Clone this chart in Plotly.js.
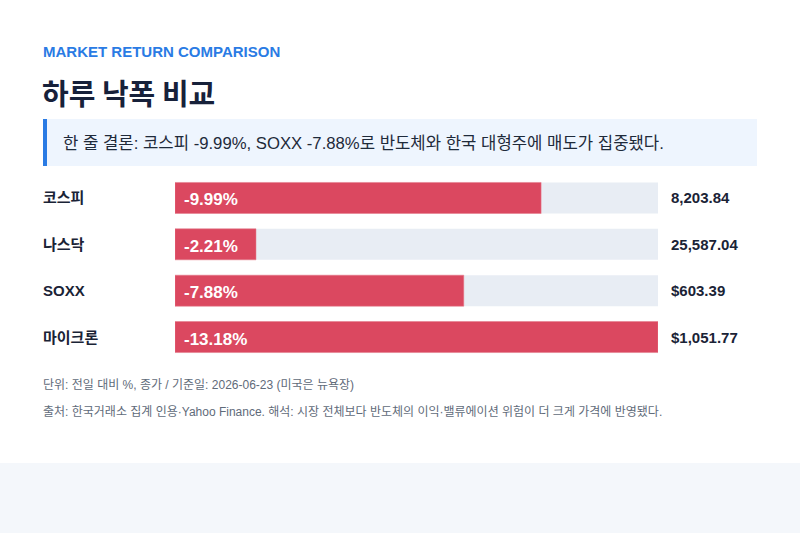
<!DOCTYPE html>
<html>
<head>
<meta charset="utf-8">
<script src="https://cdn.plot.ly/plotly-3.0.1.min.js"></script>
<style>
  html, body { margin: 0; padding: 0; background: #ffffff; }
  #myDiv { width: 800px; height: 533px; }
</style>
</head>
<body>
<div id="myDiv"></div>
<script>
var names = ['코스피', '나스닥', 'SOXX', '마이크론'];
var changes = [-9.99, -2.21, -7.88, -13.18];
var closes = ['8,203.84', '25,587.04', '$603.39', '$1,051.77'];

var FONT = 'Liberation Sans, Arial, Noto Sans CJK KR, sans-serif';
var maxDrop = Math.max.apply(null, changes.map(function (v) { return Math.abs(v); }));

function py(px) { return 1 - px / 533; }

var track = {
  type: 'bar',
  orientation: 'h',
  y: names,
  x: names.map(function () { return maxDrop; }),
  marker: {color: '#e8edf4'},
  width: 0.67,
  hoverinfo: 'skip',
  showlegend: false
};

var drops = {
  type: 'bar',
  orientation: 'h',
  y: names,
  x: changes.map(function (v) { return Math.abs(v); }),
  marker: {color: '#db4860', line: {color: '#e87a8a', width: 0.5}},
  width: 0.67,
  hoverinfo: 'skip',
  showlegend: false
};

var annotations = [];
names.forEach(function (n, i) {
  annotations.push({
    xref: 'paper', yref: 'y', x: 41 / 800, y: n, xanchor: 'left', yanchor: 'middle',
    text: '<b>' + n + '</b>', showarrow: false,
    font: {family: FONT, size: 15, color: '#1a2336'}
  });
  annotations.push({
    xref: 'x', yref: 'y', x: 0, y: n, xanchor: 'left', yanchor: 'middle', xshift: 7, yshift: -2,
    text: '<b>' + changes[i].toFixed(2) + '%</b>', showarrow: false,
    font: {family: FONT, size: 17, color: '#ffffff'}
  });
  annotations.push({
    xref: 'paper', yref: 'y', x: 669 / 800, y: n, xanchor: 'left', yanchor: 'middle',
    text: '<b>' + closes[i] + '</b>', showarrow: false,
    font: {family: FONT, size: 15, color: '#1a2336'}
  });
});

annotations.push(
  {xref: 'paper', yref: 'paper', x: 41 / 800, y: py(52), xanchor: 'left', yanchor: 'middle',
   text: '<b>MARKET RETURN COMPARISON</b>', showarrow: false,
   font: {family: FONT, size: 15, color: '#2a7be4'}},
  {xref: 'paper', yref: 'paper', x: 40 / 800, y: py(92), xanchor: 'left', yanchor: 'middle',
   text: '<b>하루 낙폭 비교</b>', showarrow: false,
   font: {family: 'Noto Sans CJK KR, sans-serif', size: 29, color: '#17213a'}},
  {xref: 'paper', yref: 'paper', x: 61 / 800, y: py(143), xanchor: 'left', yanchor: 'middle',
   text: '한 줄 결론: 코스피 -9.99%, SOXX -7.88%로 반도체와 한국 대형주에 매도가 집중됐다.', showarrow: false,
   font: {family: FONT, size: 16.7, color: '#1e2a3a'}},
  {xref: 'paper', yref: 'paper', x: 41 / 800, y: py(385), xanchor: 'left', yanchor: 'middle',
   text: '단위: 전일 대비 %, 종가 / 기준일: 2026-06-23 (미국은 뉴욕장)', showarrow: false,
   font: {family: FONT, size: 12, color: '#5f6b7a'}},
  {xref: 'paper', yref: 'paper', x: 41 / 800, y: py(412), xanchor: 'left', yanchor: 'middle',
   text: '출처: 한국거래소 집계 인용·Yahoo Finance. 해석: 시장 전체보다 반도체의 이익·밸류에이션 위험이 더 크게 가격에 반영됐다.', showarrow: false,
   font: {family: FONT, size: 12, color: '#5f6b7a'}}
);

var shapes = [
  {type: 'rect', xref: 'paper', yref: 'paper', x0: 0, x1: 1, y0: 0, y1: py(463),
   fillcolor: '#f4f7fb', line: {width: 0}, layer: 'below'},
  {type: 'rect', xref: 'paper', yref: 'paper', x0: 43 / 800, x1: 757 / 800, y0: py(166), y1: py(119),
   fillcolor: '#eef5fe', line: {width: 0}, layer: 'below'},
  {type: 'rect', xref: 'paper', yref: 'paper', x0: 43 / 800, x1: 47 / 800, y0: py(166), y1: py(119),
   fillcolor: '#2a7be4', line: {width: 0}, layer: 'below'}
];

var layout = {
  width: 800,
  height: 533,
  margin: {l: 0, r: 0, t: 0, b: 0},
  paper_bgcolor: '#ffffff',
  plot_bgcolor: 'rgba(0,0,0,0)',
  barmode: 'overlay',
  xaxis: {domain: [175 / 800, 658 / 800], range: [0, maxDrop], visible: false, fixedrange: true},
  yaxis: {domain: [py(360.2), py(174.8)], type: 'category', autorange: 'reversed',
          visible: false, fixedrange: true},
  annotations: annotations,
  shapes: shapes,
  font: {family: FONT}
};

Plotly.newPlot('myDiv', [track, drops], layout, {displayModeBar: false, staticPlot: true});
</script>
</body>
</html>
